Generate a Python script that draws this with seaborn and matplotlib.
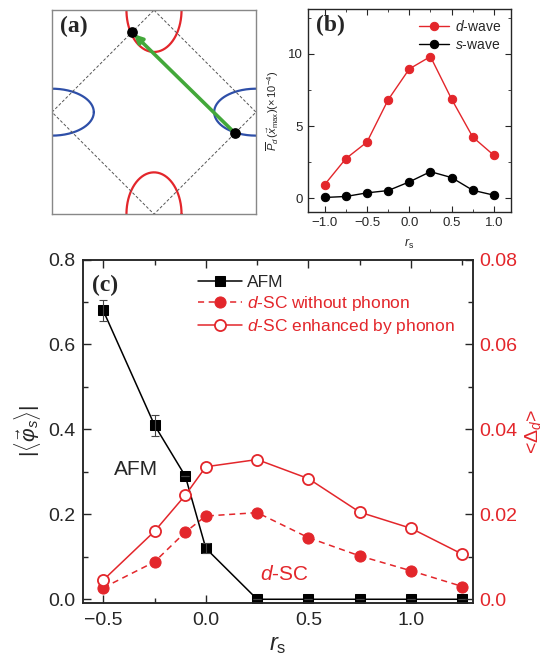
import numpy as np
import matplotlib
matplotlib.use('Agg')
import matplotlib.pyplot as plt
from matplotlib.ticker import MultipleLocator, FuncFormatter, FormatStrFormatter
import seaborn as sns

# ── Data ──────────────────────────────────────────────────────────────────────
# panel (b): pairing correlation vs r_s
rs_b = [-1.0, -0.75, -0.5, -0.25, 0.0, 0.25, 0.5, 0.75, 1.0]
d_wave = [0.94, 2.74, 3.89, 6.82, 8.96, 9.82, 6.87, 4.24, 2.97]
s_wave = [0.05, 0.12, 0.37, 0.53, 1.13, 1.84, 1.43, 0.55, 0.21]

# panel (c): order parameters vs r_s
rs_c = [-0.5, -0.25, -0.1, 0.0, 0.25, 0.5, 0.75, 1.0, 1.25]
afm = [0.68, 0.41, 0.29, 0.12, 0.0, 0.0, 0.0, 0.0, 0.0]
afm_err = [0.025, 0.025, 0.0, 0.012, 0.0, 0.0, 0.0, 0.0, 0.0]
dsc_no_ph = [0.0027, 0.0088, 0.0158, 0.0196, 0.0204, 0.0145, 0.0102, 0.0067, 0.0030]
dsc_ph = [0.0045, 0.0160, 0.0245, 0.0312, 0.0329, 0.0284, 0.0205, 0.0167, 0.0106]

# panel (a): Fermi pockets (centre, semi-axes in units of pi) and the hot spots
red_pockets = [(0.0, 1.0), (0.0, -1.0)]
red_axes = (0.27, 0.41)
blue_pockets = [(1.0, 0.0), (-1.0, 0.0)]
blue_axes = (0.41, 0.23)
hot_x = [-0.216, 0.794]
hot_y = [0.784, -0.206]

RED = '#e3262b'
BLUE = '#2e4fa8'
GREEN = '#43a83a'

sns.set_style('ticks')
plt.rcParams['font.family'] = ['Liberation Sans', 'DejaVu Sans']
plt.rcParams['mathtext.fontset'] = 'custom'
plt.rcParams['mathtext.rm'] = 'Liberation Sans'
plt.rcParams['mathtext.it'] = 'Liberation Sans:italic'
plt.rcParams['mathtext.bf'] = 'Liberation Sans:bold'

fig = plt.figure(figsize=(5.49, 6.59), dpi=100)

def panel_tag(ax, txt, x, y):
    ax.text(x, y, txt, transform=ax.transAxes, fontsize=17, fontweight='bold',
            family='Liberation Serif', va='top', ha='left')

# ════════════════════════════════════════════════════════════════
# (a) schematic
# ════════════════════════════════════════════════════════════════
ax_a = fig.add_axes([0.0947, 0.675, 0.3716, 0.3096])
t = np.linspace(0, 2 * np.pi, 300)
for cx, cy in red_pockets:
    ax_a.plot(cx + red_axes[0] * np.cos(t), cy + red_axes[1] * np.sin(t), color=RED, lw=1.6)
for cx, cy in blue_pockets:
    ax_a.plot(cx + blue_axes[0] * np.cos(t), cy + blue_axes[1] * np.sin(t), color=BLUE, lw=1.6)
ax_a.plot([0, 1, 0, -1, 0], [1, 0, -1, 0, 1], color='#555555', lw=0.7, ls=(0, (3, 2)))
ax_a.annotate('', xy=(hot_x[0] + 0.02, hot_y[0] - 0.02), xytext=(hot_x[1], hot_y[1]),
              arrowprops=dict(arrowstyle='-|>', color=GREEN, lw=2.6, mutation_scale=12,
                              shrinkA=0, shrinkB=0))
ax_a.scatter(hot_x, hot_y, s=45, color='k', zorder=5)
ax_a.set_xlim(-1, 1); ax_a.set_ylim(-1, 1)
ax_a.set_xticks([]); ax_a.set_yticks([])
for sp in ax_a.spines.values():
    sp.set_color('#888888'); sp.set_linewidth(1.0)
panel_tag(ax_a, '(a)', 0.04, 0.97)

# ════════════════════════════════════════════════════════════════
# (b) pairing correlation
# ════════════════════════════════════════════════════════════════
ax_b = fig.add_axes([0.5605, 0.678, 0.370, 0.308])
sns.lineplot(x=rs_b, y=d_wave, ax=ax_b, color=RED, marker='o', markersize=6,
             markeredgecolor=RED, lw=1.0, label='$d$-wave', legend=False)
sns.lineplot(x=rs_b, y=s_wave, ax=ax_b, color='k', marker='o', markersize=6,
             markeredgecolor='k', lw=1.0, label='$s$-wave', legend=False)
ax_b.set_xlim(-1.2, 1.2); ax_b.set_ylim(-0.97, 13.1)
ax_b.xaxis.set_major_locator(MultipleLocator(0.5))
ax_b.xaxis.set_minor_locator(MultipleLocator(0.25))
ax_b.yaxis.set_major_locator(MultipleLocator(5))
ax_b.yaxis.set_minor_locator(MultipleLocator(2.5))
ax_b.tick_params(which='both', direction='in', top=True, right=True, labelsize=9.5)
ax_b.tick_params(which='major', length=4)
ax_b.tick_params(which='minor', length=2)
ax_b.set_xlabel('$r_\\mathrm{s}$', fontsize=9, labelpad=6)
ax_b.set_ylabel(r'$\overline{P}_d\,(\vec{x}_{\max})(\times\,10^{-4})$', fontsize=8, labelpad=5)
h, l = ax_b.get_legend_handles_labels()
ax_b.legend(h, l, loc='upper right', frameon=False, fontsize=10, handlelength=2.2,
            borderaxespad=0.3, labelspacing=0.3, handletextpad=0.4)
panel_tag(ax_b, '(b)', 0.04, 0.97)
for sp in ax_b.spines.values():
    sp.set_linewidth(1.0)

# ════════════════════════════════════════════════════════════════
# (c) order parameters
# ════════════════════════════════════════════════════════════════
ax_c = fig.add_axes([0.1506, 0.0855, 0.7104, 0.5207])
ax_d = ax_c.twinx()
sns.lineplot(x=rs_c, y=afm, ax=ax_c, color='k', marker='s', markersize=7,
             markeredgecolor='k', lw=1.1, label='AFM', legend=False)
ax_c.errorbar(rs_c, afm, yerr=afm_err, fmt='none', ecolor='#444444', elinewidth=0.8,
              capsize=3, capthick=0.8)
sns.lineplot(x=rs_c, y=dsc_no_ph, ax=ax_d, color=RED, marker='o', markersize=8,
             markeredgecolor=RED, lw=1.1, ls=(0, (4, 3)),
             label='$d$-SC without phonon', legend=False)
sns.lineplot(x=rs_c, y=dsc_ph, ax=ax_d, color=RED, marker='o', markersize=8,
             markerfacecolor='white', markeredgecolor=RED, markeredgewidth=1.3, lw=1.1,
             label='$d$-SC enhanced by phonon', legend=False)

ax_c.set_xlim(-0.6, 1.3)
ax_c.set_ylim(-0.008, 0.8)
ax_d.set_ylim(-0.0008, 0.08)
ax_c.xaxis.set_major_locator(MultipleLocator(0.5))
ax_c.xaxis.set_minor_locator(MultipleLocator(0.25))
ax_c.yaxis.set_major_locator(MultipleLocator(0.2))
ax_c.yaxis.set_minor_locator(MultipleLocator(0.1))
ax_d.yaxis.set_major_locator(MultipleLocator(0.02))
ax_d.yaxis.set_minor_locator(MultipleLocator(0.01))
ax_c.yaxis.set_major_formatter(FormatStrFormatter('%.1f'))
ax_d.yaxis.set_major_formatter(FuncFormatter(lambda v, p: '0.0' if abs(v) < 1e-9 else f'{v:.2f}'))
ax_c.tick_params(which='both', direction='in', top=True, right=False, labelsize=14)
ax_c.tick_params(axis='x', pad=7)
ax_c.tick_params(axis='y', pad=5)
ax_d.tick_params(which='both', direction='in', labelsize=14, labelcolor=RED, pad=4.5)
for a in (ax_c, ax_d):
    a.tick_params(which='major', length=6, width=1.0)
    a.tick_params(which='minor', length=3.5, width=1.0)
    for sp in a.spines.values():
        sp.set_linewidth(1.1)
ax_c.set_xlabel('$r_\\mathrm{s}$', fontsize=17, labelpad=3)
ax_c.set_ylabel(r'$|\langle\vec{\varphi}_s\rangle|$', fontsize=15, labelpad=4)
ax_d.set_ylabel(r'<$\Delta_d$>', fontsize=14, color=RED, labelpad=4)

ax_c.text(-0.45, 0.305, 'AFM', fontsize=15, va='center', ha='left')
ax_c.text(0.265, 0.059, '$d$-SC', fontsize=15, color=RED, va='center', ha='left')

h1, l1 = ax_c.get_legend_handles_labels()
h2, l2 = ax_d.get_legend_handles_labels()
leg = ax_d.legend(h1 + h2, l1 + l2, loc='upper left', bbox_to_anchor=(0.27, 0.985),
                  frameon=False, fontsize=12.5, handlelength=2.5, labelspacing=0.22,
                  handletextpad=0.3, borderaxespad=0.2)
for txt in leg.get_texts()[1:]:
    txt.set_color(RED)
panel_tag(ax_c, '(c)', 0.025, 0.955)

fig.savefig('out.png', dpi=100)
